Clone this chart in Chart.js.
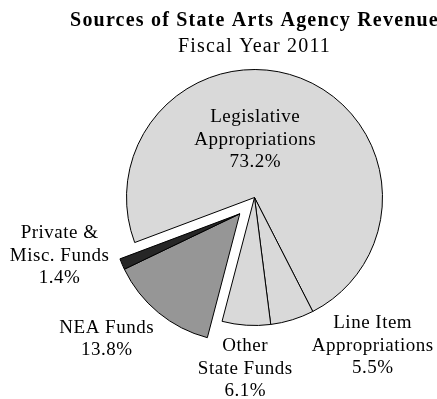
<!DOCTYPE html>
<html>
<head>
<meta charset="utf-8">
<script src="https://cdn.jsdelivr.net/npm/chart.js@4/dist/chart.umd.min.js"></script>
<style>
  html, body { margin: 0; padding: 0; background: #fff; overflow: hidden; }
  canvas { display: block; }
</style>
</head>
<body>
<canvas id="revenueChart" width="512" height="399"></canvas>
<script>
// revenue sources, FY2011, share of total (%)
const categories = ['Legislative Appropriations', 'Line Item Appropriations', 'Other State Funds', 'NEA Funds', 'Private & Misc. Funds'];
const shares = [73.2, 5.5, 6.1, 13.8, 1.4];
const labelLines = [
    ['Legislative', 'Appropriations'],
    ['Line Item', 'Appropriations'],
    ['Other', 'State Funds'],
    ['NEA Funds'],
    ['Private &', 'Misc. Funds']
];
const sliceColors = ['#d9d9d9', '#d9d9d9', '#d9d9d9', '#969696', '#262626'];

const serif = "'Liberation Serif', 'Times New Roman', serif";

// where each label block sits: [angle in degrees (clockwise from 3 o'clock), distance in radii]
const labelPlacement = [
    [-89.3, 0.45],
    [51.4, 1.48],
    [93.1, 1.34],
    [136.2, 1.60],
    [163.3, 1.59]
];

// pulls a group of adjacent slices out together along the group's bisector
const explodeGroup = {
    id: 'explodeGroup',
    afterDatasetsUpdate(chart, args, opts) {
        const meta = chart.getDatasetMeta(0);
        const group = opts.indices.map(i => meta.data[i]);
        group.forEach(arc => {
            arc.draw = function (ctx, area) {
                const a = (group[0].startAngle + group[group.length - 1].endAngle) / 2;
                ctx.save();
                ctx.translate(Math.cos(a) * opts.distance, Math.sin(a) * opts.distance);
                Chart.ArcElement.prototype.draw.call(this, ctx, area);
                ctx.restore();
            };
        });
    }
};

// slightly looser tracking for the title block, reset before the pie
const titleTracking = {
    id: 'titleTracking',
    beforeDraw(chart) { chart.ctx.letterSpacing = '1.2px'; },
    beforeDatasetsDraw(chart) { chart.ctx.letterSpacing = '0px'; }
};

const sliceLabels = {
    id: 'sliceLabels',
    afterDatasetsDraw(chart) {
        const ctx = chart.ctx;
        const arc = chart.getDatasetMeta(0).data[0];
        const r = arc.outerRadius;
        ctx.save();
        ctx.font = '19px ' + serif;
        ctx.letterSpacing = '0.5px';
        ctx.fillStyle = '#000';
        ctx.textAlign = 'center';
        ctx.textBaseline = 'middle';
        const lh = 22.5;
        shares.forEach((v, i) => {
            const lines = labelLines[i].concat([v.toFixed(1) + '%']);
            const ang = labelPlacement[i][0] * Math.PI / 180;
            const cx = arc.x + Math.cos(ang) * r * labelPlacement[i][1];
            const cy = arc.y + Math.sin(ang) * r * labelPlacement[i][1];
            const top = cy - (lines.length - 1) * lh / 2;
            lines.forEach((t, j) => ctx.fillText(t, cx, top + j * lh));
        });
        ctx.restore();
    }
};

new Chart(document.getElementById('revenueChart'), {
    type: 'pie',
    data: {
        labels: categories,
        datasets: [{
            data: shares,
            backgroundColor: sliceColors,
            borderColor: '#000',
            borderWidth: 1,
            clip: false
        }]
    },
    options: {
        responsive: false,
        animation: false,
        rotation: 249.4,
        radius: 128,
        layout: { padding: { left: 0, right: 3, top: 0, bottom: 63 } },
        plugins: {
            legend: { display: false },
            tooltip: { enabled: false },
            title: {
                display: true,
                text: 'Sources of State Arts Agency Revenue',
                color: '#000',
                font: { family: serif, size: 20, weight: 'bold' },
                padding: { top: 9, bottom: 0 }
            },
            subtitle: {
                display: true,
                text: 'Fiscal Year 2011',
                color: '#000',
                font: { family: serif, size: 20, weight: 'normal' },
                padding: { top: 2, bottom: 0 }
            },
            explodeGroup: { indices: [3, 4], distance: 22 }
        }
    },
    plugins: [titleTracking, explodeGroup, sliceLabels]
});
</script>
</body>
</html>
